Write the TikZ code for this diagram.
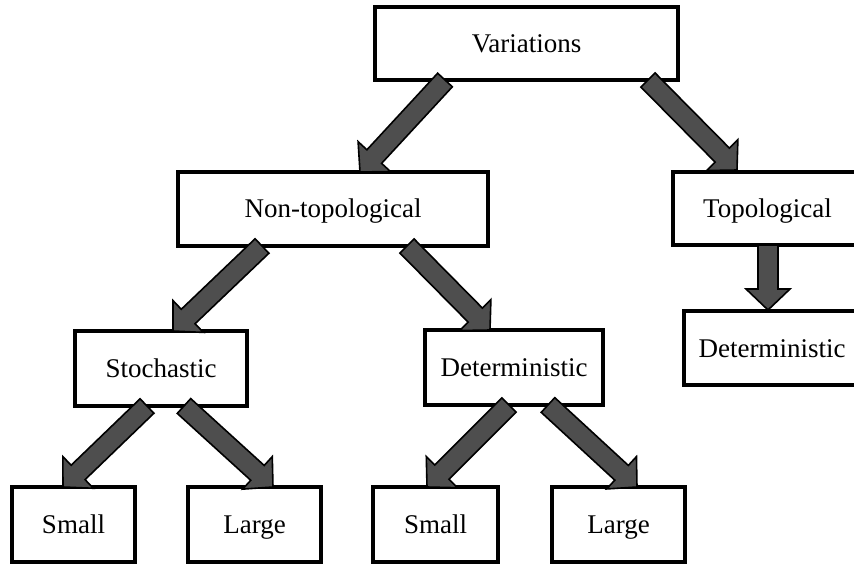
\documentclass[tikz,border=0pt]{standalone}
\usepackage{fontspec}
\setmainfont{Liberation Serif}
\usetikzlibrary{calc}

\definecolor{arrowgray}{RGB}{78,78,78}

% block arrow from a tail point to a tip point
\newcommand{\shafthalf}{10pt}
\newcommand{\headhalf}{22pt}
\newcommand{\headlen}{21pt}
\newcommand{\blockarrow}[2]{%
  \path (#1) coordinate (ba-a) (#2) coordinate (ba-b);
  \coordinate (ba-c) at ($(ba-b)!\headlen!(ba-a)$);
  \filldraw[arrowbody]
    ($(ba-a)!\shafthalf!90:(ba-b)$) -- ($(ba-c)!\shafthalf!90:(ba-b)$) --
    ($(ba-c)!\headhalf!90:(ba-b)$) -- (ba-b) --
    ($(ba-c)!\headhalf!-90:(ba-b)$) -- ($(ba-c)!\shafthalf!-90:(ba-b)$) --
    ($(ba-a)!\shafthalf!-90:(ba-b)$) -- cycle;}

\begin{document}
\begin{tikzpicture}[x=1pt,y=-1pt,
  box/.style={draw=black, line width=4pt, fill=white, rectangle,
    inner sep=0pt, outer sep=0pt, text height=18pt, text depth=0pt,
    font=\fontsize{27}{32}\selectfont},
  label/.style={font=\fontsize{27}{32}\selectfont, text height=18pt,
    text depth=0pt, inner sep=0pt},
  arrowbody/.style={fill=arrowgray, draw=black, line width=1.6pt, line join=miter}]

\useasboundingbox (0,0) rectangle (854,564);
\fill[white] (0,0) rectangle (854,564);
\clip (0,0) rectangle (854,564);

% boxes
\node[box, minimum width=303pt, minimum height=73pt] (var)    at (526.5,43.5) {Variations};
\node[box, minimum width=310pt, minimum height=74pt] (nontop) at (333,209)    {Non-topological};
\node[box, minimum width=189pt, minimum height=73pt] (topo)   at (767.5,208.5){Topological};
\node[box, minimum width=186pt, minimum height=74pt] (detr)   at (777,348)    {};
\node[label] (detrtext) at (772,348) {Deterministic};
\node[box, minimum width=172pt, minimum height=75pt] (stoch)  at (161,368.5)  {Stochastic};
\node[box, minimum width=178pt, minimum height=75pt] (detm)   at (514,367.5)  {Deterministic};
\node[box, minimum width=123pt, minimum height=75pt] (small1) at (73.5,524.5)  {Small};
\node[box, minimum width=133pt, minimum height=75pt] (large1) at (254.5,524.5) {Large};
\node[box, minimum width=125pt, minimum height=75pt] (small2) at (435.5,524.5) {Small};
\node[box, minimum width=133pt, minimum height=75pt] (large2) at (618.5,524.5) {Large};

% arrow tails and tips on the box borders
\coordinate (t1) at ($(var.south west)+(70,0)$);
\coordinate (h1) at ($(nontop.north west)+(182,0)$);
\coordinate (t2) at ($(var.south west)+(273,0)$);
\coordinate (h2) at ($(topo.north west)+(64,-2)$);
\coordinate (t3) at ($(topo.south west)+(95,0)$);
\coordinate (h3) at ($(detr.north west)+(84,-1)$);
\coordinate (t4) at ($(nontop.south west)+(84,0)$);
\coordinate (h4) at ($(stoch.north west)+(98,0)$);
\coordinate (t5) at ($(nontop.south west)+(229,0)$);
\coordinate (h5) at ($(detm.north west)+(65,0)$);
\coordinate (t6) at ($(stoch.south west)+(72,0)$);
\coordinate (h6) at ($(small1.north west)+(51,0)$);
\coordinate (t7) at ($(stoch.south west)+(109,0)$);
\coordinate (h7) at ($(large1.north west)+(85,0)$);
\coordinate (t8) at ($(detm.south west)+(84,0)$);
\coordinate (h8) at ($(small2.north west)+(54,0)$);
\coordinate (t9) at ($(detm.south west)+(123,0)$);
\coordinate (h9) at ($(large2.north west)+(85,0)$);

% connectors
\blockarrow{t1}{h1}
\blockarrow{t2}{h2}
\blockarrow{t3}{h3}
\blockarrow{t4}{h4}
\blockarrow{t5}{h5}
\blockarrow{t6}{h6}
\blockarrow{t7}{h7}
\blockarrow{t8}{h8}
\blockarrow{t9}{h9}
\end{tikzpicture}
\end{document}
